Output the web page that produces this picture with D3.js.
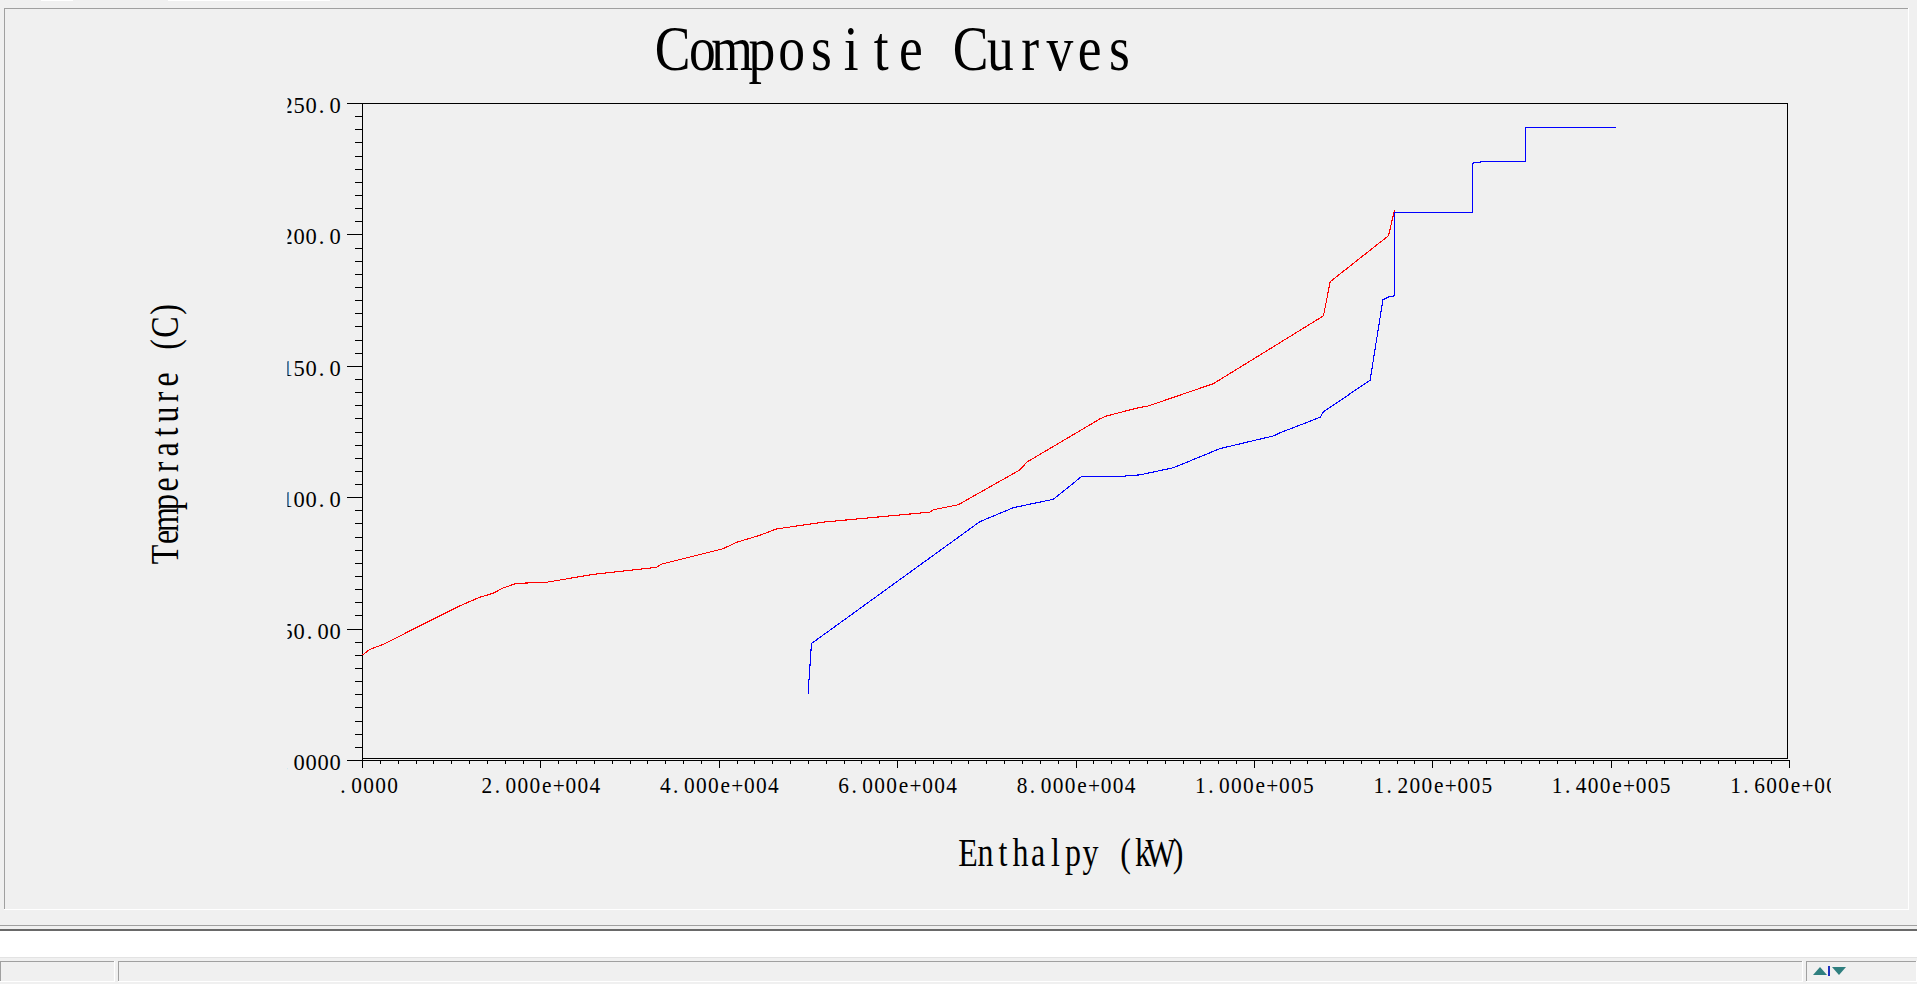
<!DOCTYPE html>
<html>
<head>
<meta charset="utf-8">
<script src="https://cdn.jsdelivr.net/npm/d3@7"></script>
<style>
html, body { margin: 0; padding: 0; background: #f0f0f0; overflow: hidden; }
svg { display: block; }
</style>
</head>
<body>
<div id="chart"></div>
<script>
// composite curve data
// hot composite (red): enthalpy in kW, temperature in C
let hotEnthalpy = [0, 785, 2470, 6400, 10880, 13130, 14620, 15740, 17240, 20610, 25840, 32950, 33510,
    40430, 41930, 44540, 46420, 51650, 63620, 63990, 66790, 73720, 74470, 82690, 83440, 87180,
    87930, 95410, 107750, 108500, 115040, 115710];
let hotTemp = [40.1, 42.2, 44.4, 51.2, 58.8, 62.1, 63.6, 65.6, 67.4, 67.8, 70.8, 73.5, 74.7,
    80.6, 83.0, 85.7, 88.1, 90.7, 94.5, 95.4, 97.3, 110.6, 113.5, 130.0, 131.1, 134.4,
    134.7, 143.4, 169.2, 182.2, 199.7, 209.5];

// cold composite (blue)
let coldEnthalpy = [49960, 50340, 69230, 72970, 77450, 77830, 80640, 85310, 87180, 90920, 96160,
    102130, 102880, 107370, 107750, 112980, 114410, 115040, 115710, 115710, 124470, 124470,
    125220, 126720, 130410, 130410, 140550];
let coldTemp = [25.5, 44.5, 90.9, 96.2, 99.4, 100.4, 108.1, 108.2, 108.7, 111.4, 118.7,
    123.5, 124.7, 130.6, 132.7, 144.7, 175.3, 176.4, 176.8, 208.6, 208.6, 227.3,
    227.7, 228.1, 228.1, 241.0, 241.0];

// axis ticks and labels
let xTickValues = [0, 20000, 40000, 60000, 80000, 100000, 120000, 140000, 160000];
let xTickLabels = ['0.0000', '2.000e+004', '4.000e+004', '6.000e+004', '8.000e+004',
    '1.000e+005', '1.200e+005', '1.400e+005', '1.600e+005'];
let yTickValues = [0, 50, 100, 150, 200, 250];
let yTickLabels = ['0.0000', '50.00', '100.0', '150.0', '200.0', '250.0'];

let chartTitle = 'Composite Curves';
let xTitle = 'Enthalpy (kW)';
let yTitle = 'Temperature (C)';

let svgWidth = 1917;
let svgHeight = 984;
let fontFamily = '"Liberation Serif", "DejaVu Serif", serif';

let svg = d3.select('#chart')
    .append('svg')
    .attr('width', svgWidth)
    .attr('height', svgHeight);

// fixed-pitch text: every character sits in a cell of width adv
// (the period sits a little left of its cell, like the original font)
function setMono(t, str, x, y, adv, sx, size, anchor) {
    let n = str.length;
    let left = anchor == 'start' ? 0 : (anchor == 'end' ? -n * adv : -n * adv / 2);
    let xs = [];
    for (let i = 0; i < n; i++) {
        let cx = left + (i + 0.5) * adv;
        if (str[i] == '.') cx -= 1.5;
        xs.push((cx / sx).toFixed(2));
    }
    t.attr('transform', `translate(${x}, ${y}) scale(${sx}, 1)`)
        .attr('x', xs.join(' '))
        .attr('y', 0)
        .attr('dy', null)
        .attr('text-anchor', 'middle')
        .attr('fill', '#000')
        .style('font-family', fontFamily)
        .style('font-size', size + 'px')
        .text(str);
    return t;
}

function monoText(parent, str, x, y, adv, sx, size, anchor) {
    return setMono(parent.append('text'), str, x, y, adv, sx, size, anchor);
}

// window chrome
svg.append('rect').attr('width', svgWidth).attr('height', svgHeight).attr('fill', '#f0f0f0');
svg.append('rect').attr('x', 41).attr('y', 0).attr('width', 32).attr('height', 1).attr('fill', '#fff');
svg.append('rect').attr('x', 168).attr('y', 0).attr('width', 162).attr('height', 1).attr('fill', '#fff');

let chrome = svg.append('g').attr('fill', 'none');
function hline(y, x0, x1, c) {
    chrome.append('line').attr('x1', x0).attr('x2', x1).attr('y1', y).attr('y2', y).attr('stroke', c);
}
function vline(x, y0, y1, c) {
    chrome.append('line').attr('x1', x).attr('x2', x).attr('y1', y0).attr('y2', y1).attr('stroke', c);
}
hline(8.5, 4, 1909, '#a0a0a0');
vline(4.5, 8, 910, '#a0a0a0');
hline(909.5, 4, 1909, '#ffffff');
vline(1908.5, 8, 910, '#ffffff');
hline(925.5, 0, svgWidth, '#a0a0a0');
svg.append('rect').attr('x', 0).attr('y', 929).attr('width', svgWidth).attr('height', 2).attr('fill', '#696969');
svg.append('rect').attr('x', 0).attr('y', 931).attr('width', svgWidth).attr('height', 26).attr('fill', '#ffffff');
hline(957.5, 0, svgWidth, '#e3e3e3');
[[0, 115], [118, 1803], [1806, 1917]].forEach(function(p) {
    hline(961.5, p[0], p[1], '#a0a0a0');
    vline(p[0] + 0.5, 961, 982, '#a0a0a0');
    hline(981.5, p[0], p[1], '#ffffff');
    vline(p[1] - 0.5, 961, 982, '#ffffff');
});
svg.append('path').attr('d', 'M1813,975 L1820,967 L1827,975 Z').attr('fill', '#2f7f7f');
svg.append('rect').attr('x', 1828).attr('y', 966).attr('width', 2).attr('height', 10).attr('fill', '#2030c0');
svg.append('path').attr('d', 'M1832,967 L1846,967 L1839,975 Z').attr('fill', '#2f7f7f');

// scales
let xScale = d3.scaleLinear().domain([0, 160000]).range([362, 1789]);
let yScale = d3.scaleLinear().domain([0, 250]).range([760, 103]);

// plot frame
svg.append('rect')
    .attr('x', 362.5)
    .attr('y', 103.5)
    .attr('width', 1425)
    .attr('height', 655)
    .attr('fill', 'none')
    .attr('stroke', '#000');

// clip regions for the tick labels
let defs = svg.append('defs');
defs.append('clipPath').attr('id', 'clipY')
    .append('rect').attr('x', 287.5).attr('y', 0).attr('width', 100).attr('height', svgHeight);
defs.append('clipPath').attr('id', 'clipX')
    .append('rect').attr('x', 338).attr('y', 700).attr('width', 1831 - 338).attr('height', 200);

// y axis
let yMinor = yScale.ticks(50).filter(d => d % 50 != 0);
let yWrap = svg.append('g').attr('clip-path', 'url(#clipY)');
let yAxisG = yWrap.append('g')
    .attr('transform', 'translate(362, 0)')
    .call(d3.axisLeft(yScale).tickValues(yTickValues)
        .tickFormat((d, i) => yTickLabels[i]).tickSize(15).tickSizeOuter(0));
yAxisG.selectAll('.tick text').each(function(d, i) {
    setMono(d3.select(this), yTickLabels[i], -21, 9.5, 12, 1, 22.5, 'end');
});
let yMinorG = yWrap.append('g')
    .attr('transform', 'translate(362, 0)')
    .call(d3.axisLeft(yScale).tickValues(yMinor).tickFormat('').tickSize(7).tickSizeOuter(0));
yMinorG.select('.domain').remove();

// x axis
let xMinor = xScale.ticks(80).filter(d => d % 20000 != 0);
let xWrap = svg.append('g').attr('clip-path', 'url(#clipX)');
let xAxisG = xWrap.append('g')
    .attr('transform', 'translate(0, 760)')
    .call(d3.axisBottom(xScale).tickValues(xTickValues)
        .tickFormat((d, i) => xTickLabels[i]).tickSize(8).tickSizeOuter(0));
xAxisG.selectAll('.tick text').each(function(d, i) {
    setMono(d3.select(this), xTickLabels[i], 0, 33, 12, 0.95, 22.5, 'middle');
});
let xMinorG = xWrap.append('g')
    .attr('transform', 'translate(0, 760)')
    .call(d3.axisBottom(xScale).tickValues(xMinor).tickFormat('').tickSize(4).tickSizeOuter(0));
xMinorG.select('.domain').remove();

svg.selectAll('.tick line, .domain').attr('stroke', '#000').attr('shape-rendering', 'crispEdges');

// curves
let line = d3.line()
    .x(d => xScale(d[0]) + 0.5)
    .y(d => yScale(d[1]) + 0.5);

let hotData = hotEnthalpy.map((h, i) => [h, hotTemp[i]]);
let coldData = coldEnthalpy.map((h, i) => [h, coldTemp[i]]);

svg.append('path')
    .datum(hotData)
    .attr('d', line)
    .attr('fill', 'none')
    .attr('stroke', '#ff0000')
    .attr('stroke-width', 1.1)
    .attr('shape-rendering', 'crispEdges');

svg.append('path')
    .datum(coldData)
    .attr('d', line)
    .attr('fill', 'none')
    .attr('stroke', '#0000ff')
    .attr('stroke-width', 1.1)
    .attr('shape-rendering', 'crispEdges');

// titles
monoText(svg, chartTitle, 896, 70, 29.8, 0.85, 63, 'middle');
monoText(svg, xTitle, 1073, 866, 17.5, 0.82, 39, 'middle');
let yTitleG = svg.append('g').attr('transform', 'translate(178, 432) rotate(-90)');
monoText(yTitleG, yTitle, 0, 0, 17.5, 0.82, 39, 'middle');
</script>
</body>
</html>
